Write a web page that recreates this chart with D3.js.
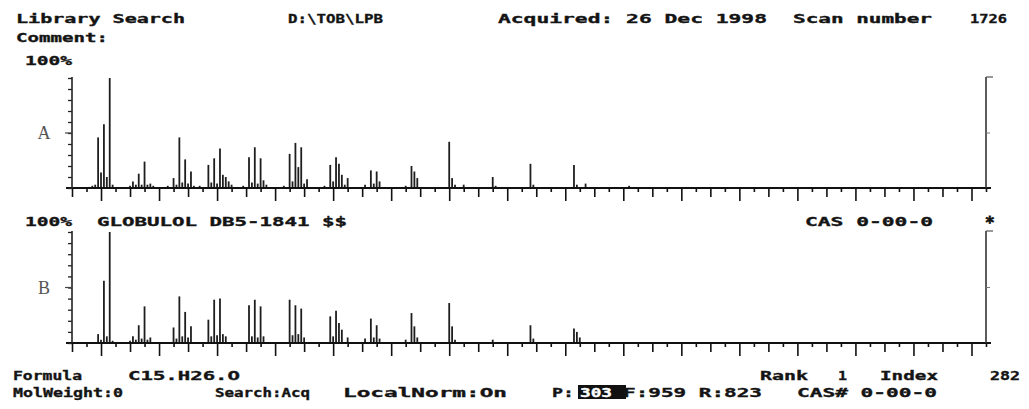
<!DOCTYPE html>
<html>
<head>
<meta charset="utf-8">
<script src="https://cdn.jsdelivr.net/npm/d3@7/dist/d3.min.js"></script>
<style>
body { margin: 0; background: #fff; }
text { font-family: "DejaVu Sans Mono", monospace; font-weight: bold; fill: #141414; }
</style>
</head>
<body>
<div id="chart"></div>
<script>
// acquired spectrum (A), m/z and % intensity
var mzA  = [36, 37, 38, 39, 40, 41, 42, 43, 44,
            50, 51, 52, 53, 54, 55, 56, 57, 58,
            63, 65, 66, 67, 68, 69, 70, 71, 72,
            74, 77, 78, 79, 80, 81, 82, 83, 84, 85,
            89, 91, 92, 93, 94, 95, 96, 97,
            103, 105, 106, 107, 108, 109, 110, 111,
            117, 119, 120, 121, 122, 123, 124, 125,
            131, 133, 134, 135, 136,
            145, 147, 148, 149,
            160, 161, 162, 165,
            175, 176, 188, 189, 203, 204, 207, 222];
var intA = [1, 2, 3, 46, 14, 58, 10, 100, 3,
            2, 6, 3, 13, 3, 24, 3, 4, 2,
            2, 9, 3, 46, 5, 26, 4, 15, 2,
            2, 21, 5, 27, 4, 36, 12, 10, 6, 3,
            2, 28, 5, 37, 4, 27, 7, 3,
            2, 31, 6, 41, 19, 37, 4, 8,
            2, 21, 6, 28, 22, 12, 3, 9,
            3, 16, 4, 15, 6,
            2, 20, 15, 9,
            42, 9, 3, 3,
            10, 2, 22, 3, 21, 3, 4, 2];

// library spectrum (B) GLOBULOL
var mzB  = [39, 40, 41, 42, 43, 44,
            50, 51, 52, 53, 54, 55, 56, 57,
            65, 66, 67, 68, 69, 70, 71,
            77, 78, 79, 80, 81, 82, 83,
            91, 92, 93, 94, 95, 96,
            105, 106, 107, 108, 109, 110,
            119, 120, 121, 122, 123, 125,
            131, 133, 134, 135, 136,
            145, 147, 148, 149,
            160, 161, 162, 175, 188, 189, 203, 204, 205];
var intB = [8, 3, 56, 6, 100, 2,
            2, 6, 3, 16, 4, 33, 3, 5,
            14, 4, 42, 6, 28, 5, 15,
            21, 6, 39, 7, 40, 8, 6,
            34, 6, 39, 5, 33, 6,
            39, 7, 34, 8, 31, 5,
            24, 6, 29, 18, 12, 5,
            4, 22, 5, 16, 4,
            3, 27, 15, 5,
            36, 15, 3, 3, 16, 4, 13, 10, 5];

var xTicks = d3.range(30, 346, 5);
var yTicks = d3.range(0, 101, 10);

var width = 1029, height = 409;
var svg = d3.select("#chart").append("svg")
    .attr("width", width)
    .attr("height", height);

var x = d3.scaleLinear().domain([30, 345]).range([72, 986]);
var yA = d3.scaleLinear().domain([0, 100]).range([188, 78]);
var yB = d3.scaleLinear().domain([0, 100]).range([343, 232]);

function panel(mz, vals, y, label, topY) {
    var g = svg.append("g");
    var base = y(0);

    // bars
    g.selectAll("line.bar")
        .data(mz)
        .enter().append("line")
        .attr("class", "bar")
        .attr("x1", function(d) { return x(d); })
        .attr("x2", function(d) { return x(d); })
        .attr("y1", base)
        .attr("y2", function(d, i) { return y(vals[i]); })
        .attr("stroke", "#1e1e1e")
        .attr("stroke-width", 1.8);

    // baseline
    g.append("line")
        .attr("x1", 66).attr("x2", 991)
        .attr("y1", base).attr("y2", base)
        .attr("stroke", "#111").attr("stroke-width", 2);

    // x ticks, three lengths
    [[function(d) { return d % 20 === 0; }, 14],
     [function(d) { return d % 20 !== 0 && d % 10 === 0; }, 10],
     [function(d) { return d % 10 !== 0; }, 5]].forEach(function(lv) {
        var ax = d3.axisBottom(x)
            .tickValues(xTicks.filter(lv[0]))
            .tickSize(lv[1])
            .tickFormat("");
        var a = g.append("g")
            .attr("transform", "translate(0," + (base - 1) + ")")
            .call(ax);
        a.select(".domain").remove();
        a.selectAll("line").attr("stroke", "#111").attr("stroke-width", 1.6);
    });

    // left y axis
    var ay = d3.axisLeft(y).tickValues(yTicks).tickSize(4).tickFormat("");
    var ga = g.append("g").attr("transform", "translate(72,0)").call(ay);
    ga.select(".domain").remove();
    ga.selectAll("line").attr("stroke", "#222").attr("stroke-width", 1.3);
    g.append("line")
        .attr("x1", 72).attr("x2", 72)
        .attr("y1", y(100) - 1).attr("y2", base)
        .attr("stroke", "#222").attr("stroke-width", 1.6);
    g.append("line")
        .attr("x1", 65).attr("x2", 72)
        .attr("y1", y(50)).attr("y2", y(50))
        .attr("stroke", "#444").attr("stroke-width", 1.2);

    // right axis
    g.append("line")
        .attr("x1", 986).attr("x2", 986)
        .attr("y1", topY).attr("y2", base)
        .attr("stroke", "#333").attr("stroke-width", 1.6);
    g.append("line")
        .attr("x1", 986).attr("x2", 993)
        .attr("y1", topY).attr("y2", topY)
        .attr("stroke", "#555").attr("stroke-width", 1.2);
    g.append("line")
        .attr("x1", 986).attr("x2", 990)
        .attr("y1", y(50)).attr("y2", y(50))
        .attr("stroke", "#777").attr("stroke-width", 1);

    g.append("text")
        .attr("x", 44).attr("y", y(50) + 6)
        .attr("text-anchor", "middle")
        .style("font-family", "'Liberation Serif', serif")
        .style("font-weight", "normal")
        .style("font-size", "18px")
        .style("fill", "#555")
        .style("stroke", "none")
        .text(label);
}

panel(mzA, intA, yA, "A", 77);
panel(mzB, intB, yB, "B", 231);

// text helper: stretch each string to the width it takes on the printout
function txt(x0, x1, y, s, fill) {
    var c = fill || "#141414";
    return svg.append("text")
        .attr("x", x0).attr("y", y)
        .attr("textLength", x1 - x0)
        .attr("lengthAdjust", "spacingAndGlyphs")
        .style("font-size", "12.5px")
        .style("fill", c)
        .style("stroke", c)
        .style("stroke-width", 0.35)
        .text(s);
}

// header
txt(16, 185, 23, "Library Search");
txt(288, 383, 23, "D:\\TOB\\LPB");
txt(498, 767, 23, "Acquired: 26 Dec 1998");
txt(793, 932, 23, "Scan number");
txt(970, 1007, 23, "1726");
txt(16, 108, 42, "Comment:");
txt(25, 72, 65, "100%");

// library hit line
txt(25, 72, 226, "100%");
txt(97, 347, 226, "GLOBULOL DB5-1841 $$");
txt(805, 933, 226, "CAS 0-00-0");
svg.append("text")
    .attr("x", 985).attr("y", 228)
    .style("font-size", "16px")
    .style("stroke", "#141414")
    .style("stroke-width", 0.8)
    .text("*");

// footer
txt(13, 82, 380, "Formula");
txt(128, 240, 380, "C15.H26.O");
txt(760, 808, 380, "Rank");
txt(838, 847, 380, "1");
txt(880, 938, 380, "Index");
txt(990, 1020, 380, "282");

txt(13, 123, 397, "MolWeight:0");
txt(215, 310, 397, "Search:Acq");
txt(343, 507, 397, "LocalNorm:On");
txt(552, 574, 397, "P:");
svg.append("rect")
    .attr("x", 578).attr("y", 385)
    .attr("width", 48).attr("height", 14)
    .attr("fill", "#111");
txt(580, 612, 397, "303", "#fff");
txt(623, 762, 397, "F:959 R:823");
txt(797, 937, 397, "CAS# 0-00-0");
</script>
</body>
</html>
